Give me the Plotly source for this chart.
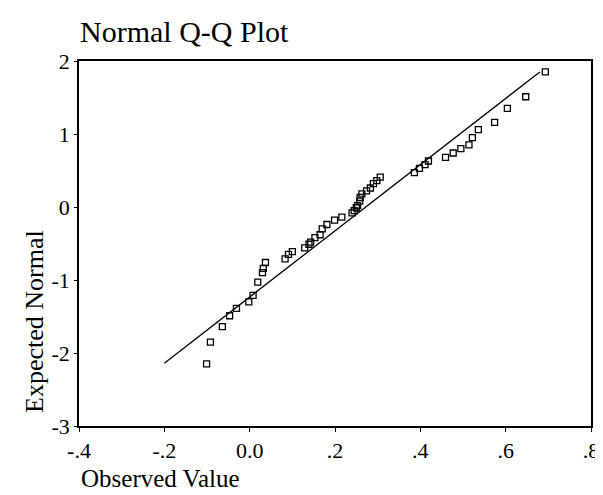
import plotly.graph_objects as go

observed = [-0.101, -0.092, -0.064, -0.047, -0.031, -0.002, 0.008, 0.019, 0.030, 0.032,
            0.037, 0.083, 0.091, 0.100, 0.129, 0.139, 0.143, 0.153, 0.165, 0.170,
            0.181, 0.199, 0.216, 0.240, 0.245, 0.250, 0.253, 0.258, 0.259, 0.263,
            0.274, 0.283, 0.290, 0.298, 0.306, 0.386, 0.398, 0.411, 0.419, 0.459,
            0.477, 0.495, 0.514, 0.522, 0.536, 0.574, 0.604, 0.647, 0.693]
expected = [-2.15, -1.85, -1.64, -1.49, -1.39, -1.30, -1.21, -1.03, -0.90, -0.84,
            -0.76, -0.71, -0.65, -0.61, -0.56, -0.51, -0.48, -0.42, -0.38, -0.30,
            -0.24, -0.18, -0.14, -0.08, -0.05, -0.01, 0.02, 0.08, 0.13, 0.18,
            0.22, 0.26, 0.32, 0.36, 0.41, 0.47, 0.53, 0.58, 0.63, 0.68,
            0.74, 0.80, 0.85, 0.95, 1.06, 1.16, 1.35, 1.51, 1.85]

# Reference line end points
line_x = [-0.2, 0.68]
line_y = [-2.14, 1.85]

x_tickvals = [-0.4, -0.2, 0.0, 0.2, 0.4, 0.6, 0.8]
x_ticktext = ["-.4", "-.2", "0.0", ".2", ".4", ".6", ".8"]
y_tickvals = [2, 1, 0, -1, -2, -3]
y_ticktext = ["2", "1", "0", "-1", "-2", "-3"]

FONT = "Liberation Serif, Times New Roman, serif"

fig = go.Figure()
fig.add_trace(go.Scatter(x=line_x, y=line_y, mode="lines",
                         line=dict(color="black", width=1.3),
                         showlegend=False, hoverinfo="skip"))
fig.add_trace(go.Scatter(x=observed, y=expected, mode="markers",
                         marker=dict(symbol="square-open", size=6,
                                     color="black", line=dict(width=1.3)),
                         showlegend=False))

fig.update_layout(
    width=603, height=495,
    margin=dict(l=71, r=20, t=53, b=77),
    paper_bgcolor="white", plot_bgcolor="white",
    font=dict(family=FONT, color="black"),
    title=dict(text="Normal Q-Q Plot", x=72/603, xanchor="left",
               y=1 - 23/495, yanchor="middle",
               font=dict(family=FONT, size=30, color="black")),
    xaxis=dict(range=[-0.4, 0.8], tickvals=x_tickvals, ticktext=x_ticktext,
               showgrid=False, zeroline=False, showline=True, mirror=True,
               linecolor="black", linewidth=1.5, ticks="outside", ticklen=4,
               tickcolor="black", tickfont=dict(family=FONT, size=22)),
    yaxis=dict(range=[-3, 2], tickvals=y_tickvals, ticktext=y_ticktext,
               showgrid=False, zeroline=False, showline=True, mirror=True,
               linecolor="black", linewidth=1.5, ticks="outside", ticklen=3,
               tickcolor="black", tickfont=dict(family=FONT, size=22)),
    annotations=[
        dict(text="Observed Value", xref="paper", yref="paper",
             x=0, y=(418 - 470) / 365, xanchor="left", yanchor="middle",
             showarrow=False, font=dict(family=FONT, size=25, color="black")),
        dict(text="Expected Normal", xref="paper", yref="paper",
             x=(26 - 71) / 512, y=(418 - 314) / 365, xanchor="center",
             yanchor="middle", textangle=-90, showarrow=False,
             font=dict(family=FONT, size=26, color="black")),
    ],
)

fig.write_html("out.html")
